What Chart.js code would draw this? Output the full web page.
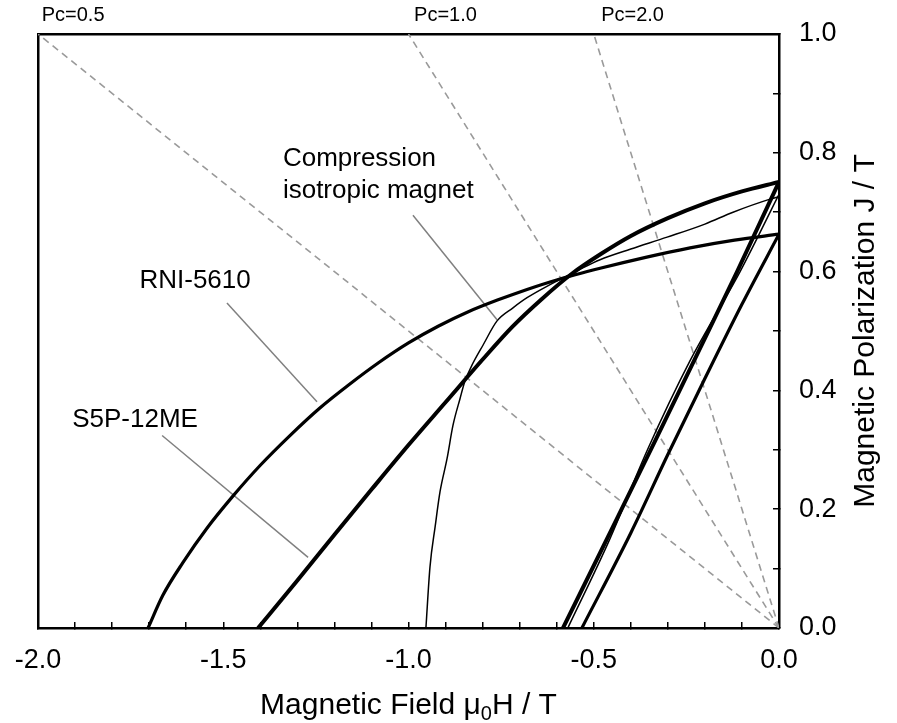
<!DOCTYPE html>
<html>
<head>
<meta charset="utf-8">
<script src="https://cdn.jsdelivr.net/npm/chart.js@4"></script>
<style>
html, body { margin: 0; padding: 0; background: #fff; }
</style>
</head>
<body>
<canvas id="bhChart" width="897" height="723"></canvas>
<script>
// demagnetization curves (H in T, J in T)
const rniH = [-1.703, -1.663, -1.609, -1.544, -1.474, -1.400, -1.320, -1.240, -1.160, -1.080, -1.000, -0.920, -0.840, -0.760, -0.680, -0.600, -0.480, -0.360, -0.240, -0.120, 0];
const rniJ = [0, 0.055, 0.110, 0.168, 0.222, 0.274, 0.324, 0.370, 0.410, 0.447, 0.480, 0.508, 0.532, 0.552, 0.570, 0.586, 0.606, 0.624, 0.640, 0.653, 0.663];
const s5pH = [-1.406, -1.300, -1.200, -1.100, -1.000, -0.900, -0.800, -0.720, -0.640, -0.560, -0.480, -0.400, -0.300, -0.200, -0.100, 0];
const s5pJ = [0, 0.080, 0.157, 0.233, 0.308, 0.380, 0.452, 0.507, 0.554, 0.596, 0.630, 0.660, 0.690, 0.715, 0.735, 0.751];
const compH = [-0.953, -0.942, -0.928, -0.915, -0.896, -0.880, -0.861, -0.848, -0.829, -0.799, -0.761, -0.718, -0.680, -0.618, -0.540, -0.483, -0.400, -0.302, -0.200, -0.124, -0.024, 0];
const compJ = [0, 0.103, 0.171, 0.229, 0.285, 0.341, 0.386, 0.415, 0.442, 0.476, 0.517, 0.539, 0.556, 0.578, 0.603, 0.620, 0.638, 0.658, 0.680, 0.700, 0.722, 0.726];

// recoil (steep) lines near H = 0
const rniRetH = [-0.532, -0.400, -0.300, -0.200, -0.100, 0];
const rniRetJ = [0, 0.160, 0.292, 0.420, 0.545, 0.663];
const s5pRetH = [-0.583, -0.450, -0.335, -0.220, -0.113, 0];
const s5pRetJ = [0, 0.168, 0.314, 0.462, 0.600, 0.751];
const compRetH = [-0.570, -0.460, -0.355, -0.240, -0.105, 0];
const compRetJ = [0, 0.145, 0.300, 0.450, 0.600, 0.730];

// permeance coefficient lines
const pcLabels = ['Pc=0.5', 'Pc=1.0', 'Pc=2.0'];
const pcLineH = [[0, -2.0], [0, -1.0], [0, -0.5]];
const pcLineJ = [[0, 1.0], [0, 1.0], [0, 1.0]];

// callout labels and leader lines
const noteText = ['RNI-5610', 'S5P-12ME', 'Compression', 'isotropic magnet'];
const leaderH = [[-1.490, -1.247], [-1.665, -1.271], [-0.988, -0.761]];
const leaderJ = [[0.547, 0.381], [0.324, 0.119], [0.695, 0.519]];

const FONT = '"Liberation Sans", Arial, Helvetica, sans-serif';

function pts(hs, js) {
    return hs.map((h, i) => ({ x: h, y: js[i] }));
}

function curve(hs, js, width) {
    return {
        data: pts(hs, js),
        borderColor: '#000',
        borderWidth: width,
        showLine: true,
        cubicInterpolationMode: 'monotone',
        pointRadius: 0,
        fill: false,
        order: 1
    };
}

const datasets = [];
pcLineH.forEach((hs, i) => {
    datasets.push({
        data: pts(hs, pcLineJ[i]),
        borderColor: '#9a9a9a',
        borderWidth: 1.6,
        borderDash: [7, 5],
        showLine: true,
        pointRadius: 0,
        order: 10
    });
});
leaderH.forEach((hs, i) => {
    datasets.push({
        data: pts(hs, leaderJ[i]),
        borderColor: '#808080',
        borderWidth: 1.5,
        showLine: true,
        pointRadius: 0,
        order: 5
    });
});
datasets.push(curve(rniH, rniJ, 3.2));
datasets.push(curve(rniRetH, rniRetJ, 3.2));
datasets.push(curve(s5pH, s5pJ, 4));
datasets.push(curve(s5pRetH, s5pRetJ, 4));
datasets.push(curve(compH, compJ, 1.5));
datasets.push(curve(compRetH, compRetJ, 1.5));

const textPlugin = {
    id: 'textPlugin',
    afterDraw(chart) {
        const ctx = chart.ctx;
        const area = chart.chartArea;
        const x = chart.scales.x;
        const y = chart.scales.y;
        ctx.save();
        ctx.fillStyle = '#000';
        ctx.textBaseline = 'middle';

        // callouts
        ctx.font = '26px ' + FONT;
        ctx.textAlign = 'center';
        ctx.fillText(noteText[0], x.getPixelForValue(-1.576), y.getPixelForValue(0.585));
        ctx.fillText(noteText[1], x.getPixelForValue(-1.738), y.getPixelForValue(0.351));
        ctx.textAlign = 'left';
        ctx.fillText(noteText[2], x.getPixelForValue(-1.339), y.getPixelForValue(0.790));
        ctx.fillText(noteText[3], x.getPixelForValue(-1.339), y.getPixelForValue(0.736));

        // Pc labels above the frame
        ctx.font = '20px ' + FONT;
        const pcAt = [-1.99, -0.985, -0.48];
        pcLabels.forEach((t, i) => {
            ctx.fillText(t, x.getPixelForValue(pcAt[i]), area.top - 19);
        });

        // x title with subscript
        ctx.textBaseline = 'alphabetic';
        const big = '30px ' + FONT;
        const small = '20px ' + FONT;
        ctx.font = big;
        const a = 'Magnetic Field \u03bc';
        const c = 'H / T';
        const wa = ctx.measureText(a).width;
        const wc = ctx.measureText(c).width;
        ctx.font = small;
        const wb = ctx.measureText('0').width;
        let sx = (area.left + area.right) / 2 - (wa + wb + wc) / 2;
        const by = 714;
        ctx.font = big;
        ctx.fillText(a, sx, by);
        ctx.font = small;
        ctx.fillText('0', sx + wa, by + 6);
        ctx.font = big;
        ctx.fillText(c, sx + wa + wb, by);

        // y title, reading upward on the right side
        ctx.translate(866, (area.top + area.bottom) / 2);
        ctx.rotate(-Math.PI / 2);
        ctx.textAlign = 'center';
        ctx.textBaseline = 'middle';
        ctx.font = big;
        ctx.fillText('Magnetic Polarization J / T', 0, 0);
        ctx.restore();
    }
};

const halfStep = v => Math.abs(v * 2 - Math.round(v * 2)) < 1e-6;
const fifthStep = v => Math.abs(v * 5 - Math.round(v * 5)) < 1e-6;

new Chart(document.getElementById('bhChart').getContext('2d'), {
    type: 'scatter',
    data: { datasets: datasets },
    options: {
        responsive: false,
        animation: false,
        layout: { padding: { left: 38, top: 34, right: 0, bottom: 0 } },
        plugins: { legend: { display: false }, tooltip: { enabled: false } },
        scales: {
            x: {
                type: 'linear',
                position: 'bottom',
                min: -2,
                max: 0,
                ticks: {
                    stepSize: 0.1,
                    autoSkip: false,
                    maxRotation: 0,
                    color: '#000',
                    padding: 22,
                    font: { family: FONT, size: 27 },
                    callback: v => halfStep(v) ? v.toFixed(1) : ''
                },
                grid: { drawOnChartArea: false, drawTicks: true, tickLength: -6, color: '#000', lineWidth: 1.5 },
                border: { display: true, color: '#000', width: 2.5 },
                afterFit: s => { s.height = 95; s.paddingLeft = 0; s.paddingRight = 0; }
            },
            y: {
                type: 'linear',
                position: 'right',
                min: 0,
                max: 1,
                ticks: {
                    stepSize: 0.1,
                    autoSkip: false,
                    color: '#000',
                    padding: 26,
                    font: { family: FONT, size: 27 },
                    callback: v => fifthStep(v) ? v.toFixed(1) : ''
                },
                grid: { drawOnChartArea: false, drawTicks: true, tickLength: -6, color: '#000', lineWidth: 1.5 },
                border: { display: true, color: '#000', width: 2.5 },
                afterFit: s => { s.width = 118; s.paddingTop = 0; s.paddingBottom = 0; }
            },
            xTop: {
                type: 'linear',
                position: 'top',
                min: -2,
                max: 0,
                ticks: { display: false },
                grid: { drawOnChartArea: false, drawTicks: false },
                border: { display: true, color: '#000', width: 2.5 },
                afterFit: s => { s.height = 0; }
            },
            yLeft: {
                type: 'linear',
                position: 'left',
                min: 0,
                max: 1,
                ticks: { display: false },
                grid: { drawOnChartArea: false, drawTicks: false },
                border: { display: true, color: '#000', width: 2.5 },
                afterFit: s => { s.width = 0; }
            }
        }
    },
    plugins: [textPlugin]
});
</script>
</body>
</html>
